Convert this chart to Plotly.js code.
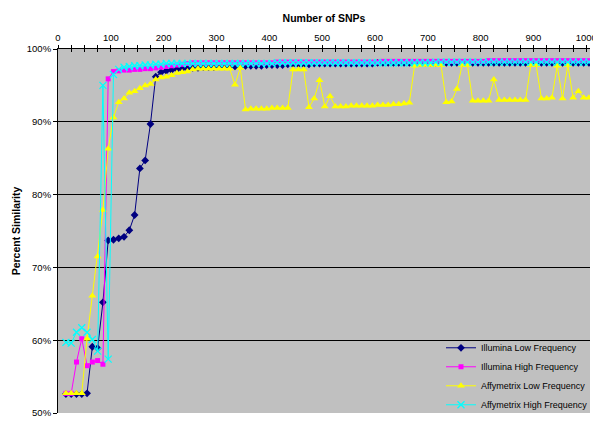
<!DOCTYPE html>
<html>
<head>
<meta charset="utf-8">
<script src="https://cdn.plot.ly/plotly-3.0.1.min.js"></script>
<style>
  html, body { margin: 0; padding: 0; background: #ffffff; overflow: hidden; }
  #chart { width: 593px; height: 423px; }
</style>
</head>
<body>
<div id="chart"></div>
<script>
// Number of SNPs (x positions of the samples)
const snps = [15,25,35,45,55,65,75,85,95,105,115,125,135,145,155,165,175,185,195,205,
  215,225,235,245,255,265,275,285,295,305,315,325,335,345,355,365,375,385,395,405,
  415,425,435,445,455,465,475,485,495,505,515,525,535,545,555,565,575,585,595,605,
  615,625,635,645,655,665,675,685,695,705,715,725,735,745,755,765,775,785,795,805,
  815,825,835,845,855,865,875,885,895,905,915,925,935,945,955,965,975,985,995,1005];

// Percent similarity per series
const illuminaLow = [52.6,52.6,52.6,52.6,52.7,59.1,58.9,65.2,73.7,73.8,74.0,74.2,75.1,77.2,83.6,84.7,89.7,96.2,96.8,97.0,
  97.1,97.2,97.3,97.3,97.4,97.4,97.5,97.5,97.5,97.6,97.6,97.6,97.6,97.6,97.7,97.7,97.7,97.7,97.8,97.8,
  97.8,97.8,97.9,97.9,97.9,97.9,97.9,98.0,98.0,98.0,98.0,98.0,98.0,98.0,98.0,98.0,98.0,98.0,98.0,98.1,
  98.1,98.1,98.1,98.1,98.1,98.1,98.1,98.1,98.1,98.1,98.1,98.1,98.1,98.1,98.1,98.1,98.1,98.1,98.1,98.1,
  98.1,98.1,98.1,98.1,98.1,98.1,98.1,98.1,98.1,98.1,98.1,98.1,98.1,98.1,98.1,98.1,98.1,98.1,98.1,98.1];

const illuminaHigh = [52.7,52.7,57.0,60.2,56.5,57.0,57.2,56.7,95.9,96.9,97.0,97.1,97.1,97.2,97.2,97.3,97.3,97.4,97.5,97.6,
  97.7,97.8,97.9,98.0,98.1,98.1,98.1,98.1,98.1,98.1,98.1,98.1,98.1,98.1,98.1,98.1,98.1,98.1,98.1,98.1,
  98.2,98.2,98.2,98.2,98.2,98.2,98.2,98.2,98.2,98.2,98.2,98.2,98.2,98.2,98.2,98.2,98.2,98.2,98.2,98.2,
  98.3,98.3,98.3,98.3,98.3,98.3,98.3,98.3,98.3,98.3,98.3,98.3,98.3,98.3,98.3,98.3,98.3,98.3,98.3,98.3,
  98.4,98.4,98.4,98.4,98.4,98.4,98.4,98.4,98.4,98.4,98.4,98.4,98.4,98.4,98.4,98.4,98.4,98.4,98.4,98.4];

const affyLow = [52.7,52.7,52.7,52.7,60.2,66.1,71.5,77.9,86.3,90.6,92.7,93.2,94.0,94.2,94.6,95.0,95.2,95.8,96.1,96.2,
  96.4,96.7,96.8,96.9,97.2,97.3,97.3,97.3,97.3,97.3,97.3,97.3,95.1,97.4,91.7,91.8,91.8,91.8,91.8,91.9,
  91.9,91.9,91.9,97.2,97.2,97.2,92.0,93.2,95.7,92.1,93.5,92.1,92.1,92.1,92.2,92.2,92.2,92.2,92.2,92.3,
  92.3,92.3,92.4,92.4,92.5,92.6,97.7,97.8,97.8,97.8,97.8,97.8,92.7,92.8,94.5,97.8,97.8,92.9,92.9,92.9,
  92.9,95.8,93.0,93.0,93.0,93.0,93.0,93.0,97.8,97.8,93.2,93.2,93.3,97.7,93.2,97.8,93.3,94.2,93.3,93.3];

const affyHigh = [59.7,59.6,61.1,61.7,61.1,60.1,58.5,95.0,57.4,96.5,97.2,97.5,97.6,97.7,97.7,97.8,97.8,97.9,97.9,98.0,
  98.0,98.0,98.0,98.0,98.0,98.0,98.0,98.0,98.0,98.0,98.0,98.0,98.0,98.0,98.0,98.0,98.0,98.0,98.0,98.0,
  98.1,98.1,98.1,98.1,98.1,98.1,98.1,98.1,98.1,98.1,98.1,98.1,98.1,98.1,98.1,98.1,98.1,98.1,98.1,98.1,
  98.1,98.1,98.1,98.1,98.1,98.1,98.1,98.1,98.1,98.1,98.2,98.2,98.2,98.2,98.2,98.2,98.2,98.2,98.2,98.2,
  98.2,98.2,98.2,98.2,98.2,98.2,98.2,98.2,98.2,98.2,98.2,98.2,98.2,98.2,98.2,98.2,98.2,98.2,98.2,98.2];

const seriesNames = ['Illumina Low Frequency','Illumina High Frequency','Affymetrix Low Frequency','Affymetrix High Frequency'];
const yTickVals = [50,60,70,80,90,100];
const xTickVals = [0,100,200,300,400,500,600,700,800,900,1000];

const FONT = 'Liberation Sans, Arial, sans-serif';

const traces = [
  {x: snps, y: illuminaLow, name: seriesNames[0], type: 'scatter', mode: 'lines+markers',
   line: {color: '#000080', width: 1}, marker: {symbol: 'diamond', size: 6, color: '#000080'}},
  {x: snps, y: illuminaHigh, name: seriesNames[1], type: 'scatter', mode: 'lines+markers',
   line: {color: '#FF00FF', width: 1}, marker: {symbol: 'square', size: 5, color: '#FF00FF'}},
  {x: snps, y: affyLow, name: seriesNames[2], type: 'scatter', mode: 'lines+markers',
   line: {color: '#FFFF00', width: 1}, marker: {symbol: 'triangle-up', size: 7, color: '#FFFF00'}},
  {x: snps, y: affyHigh, name: seriesNames[3], type: 'scatter', mode: 'lines+markers',
   line: {color: '#00FFFF', width: 1}, marker: {symbol: 'x-thin', size: 7, color: '#00FFFF', line: {color: '#00FFFF', width: 1.3}}},
  {x: [], y: [], xaxis: 'x2', showlegend: false, hoverinfo: 'skip', type: 'scatter'}
];

const layout = {
  width: 593, height: 423,
  margin: {l: 58.3, r: 0, t: 49, b: 9.5, pad: 0},
  paper_bgcolor: '#FFFFFF',
  plot_bgcolor: '#C0C0C0',
  font: {family: FONT, size: 9.5, color: '#000000'},
  showlegend: true,
  legend: {
    x: 0.72, y: 0.219, xanchor: 'left', yanchor: 'top',
    bgcolor: 'rgba(0,0,0,0)', borderwidth: 0,
    font: {family: FONT, size: 9, color: '#000000'},
    traceorder: 'normal'
  },
  xaxis: {
    range: [0, 1007], side: 'top',
    tickmode: 'array', tickvals: xTickVals, ticktext: xTickVals.map(String),
    ticklabeloverflow: 'allow',
    ticks: 'outside', ticklen: 3, tickwidth: 1, tickcolor: '#000000',
    minor: {dtick: 25, tick0: 0, ticks: 'outside', ticklen: 3, tickwidth: 1, tickcolor: '#000000', showgrid: false},
    showline: true, linecolor: '#000000', linewidth: 1.5,
    showgrid: false, zeroline: false,
    tickfont: {family: FONT, size: 9.5, color: '#000000'},
    title: {text: 'Number of SNPs', font: {family: FONT, size: 10.5, color: '#000000', weight: 'bold'}, standoff: 7}
  },
  xaxis2: {
    range: [0, 1007], overlaying: 'x', side: 'top', anchor: 'y',
    dtick: 25, tick0: 0, ticks: 'inside', ticklen: 3, tickwidth: 1, tickcolor: '#000000',
    showticklabels: false, showline: false, showgrid: false, zeroline: false
  },
  yaxis: {
    range: [50, 100],
    tickmode: 'array', tickvals: yTickVals, ticktext: yTickVals.map(v => v + '%'),
    ticks: 'outside', ticklen: 4, tickwidth: 1, tickcolor: '#000000',
    showline: true, linecolor: '#000000', linewidth: 1,
    showgrid: true, gridcolor: '#000000', gridwidth: 1,
    zeroline: false,
    tickfont: {family: FONT, size: 9.5, color: '#000000'},
    title: {text: 'Percent Similarity', font: {family: FONT, size: 10.5, color: '#000000', weight: 'bold'}, standoff: 4}
  }
};

Plotly.newPlot('chart', traces, layout, {displayModeBar: false, staticPlot: true});
</script>
</body>
</html>
